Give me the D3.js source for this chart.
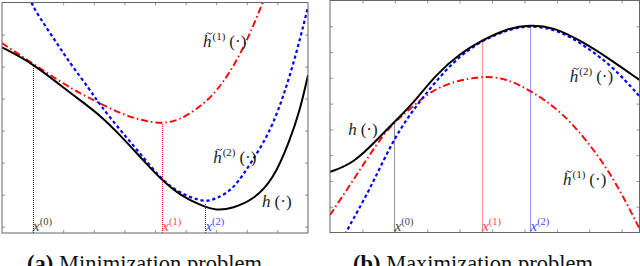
<!DOCTYPE html>
<html>
<head>
<meta charset="utf-8">
<script src="https://cdn.jsdelivr.net/npm/d3@7"></script>
<style>
  body { margin: 0; background: #fff; }
  svg { display: block; }
</style>
</head>
<body>
<svg id="chart" width="640" height="266"></svg>
<script>
// (a) minimization problem
const minHX = [0, 1.0, 1.9, 2.55, 3.2, 3.86, 4.51, 5.22, 5.82, 6.47, 7.02, 7.55, 8.2, 8.86, 9.41, 9.74, 10];
const minHY = [5.6, 5.1, 4.42, 3.95, 3.48, 2.86, 2.18, 1.45, 0.98, 0.67, 0.49, 0.58, 0.83, 1.45, 2.7, 3.64, 4.73];
const minH1X = [0, 1.0, 1.9, 2.55, 3.2, 3.86, 4.51, 5.22, 5.82, 6.47, 7.02, 7.78, 8.53, 8.9];
const minH1Y = [5.73, 5.1, 4.53, 4.16, 3.85, 3.54, 3.33, 3.2, 3.33, 3.74, 4.21, 5.3, 6.98, 8.0];
const minH2X = [0.7, 0.915, 1.57, 2.22, 2.88, 3.2, 3.86, 4.51, 5.22, 5.82, 6.63, 7.02, 7.55, 8.2, 8.86, 9.51, 10];
const minH2Y = [7.7, 6.98, 6.05, 5.1, 4.27, 3.8, 3.02, 2.29, 1.45, 1.04, 0.74, 0.89, 1.14, 2.08, 3.11, 4.98, 6.86];
const minIterX = [1.0, 5.22, 6.63];
const minIterY = [5.1, 3.2, 0.74];

// (b) maximization problem
const maxHX = [0, 0.72, 1.44, 1.98, 2.47, 3.29, 4.01, 4.68, 5.45, 6.17, 6.89, 7.72, 8.54, 9.57];
const maxHY = [2.35, 2.68, 3.58, 4.29, 4.87, 6.16, 6.94, 7.45, 7.91, 8.06, 7.97, 7.45, 6.81, 5.9];
const maxH1X = [0, 0.72, 1.44, 1.98, 2.47, 3.29, 4.68, 5.45, 6.17, 7.1, 7.92, 8.74, 9.57];
const maxH1Y = [0.68, 2.03, 3.45, 4.29, 4.78, 5.71, 6.1, 5.97, 5.52, 4.74, 3.58, 2.16, 0.1];
const maxH2X = [0.4, 0.52, 1.23, 1.98, 2.78, 3.81, 4.68, 5.45, 6.17, 7.1, 7.92, 8.74, 9.57];
const maxH2Y = [-0.3, 0.1, 1.65, 3.71, 5.13, 6.68, 7.45, 7.85, 8.06, 7.84, 7.19, 6.42, 5.26];
const maxIterX = [1.98, 4.68, 6.17];
const maxIterY = [4.29, 7.45, 8.06];

const iterColors = ['#222', '#ff1a1a', '#2a2aff'];
const iterNames = ['0', '1', '2'];
const serif = "'Liberation Serif', 'Times New Roman', 'DejaVu Serif', serif";

const svg = d3.select('#chart');
const zip = (xs, ys) => xs.map((x, i) => [x, ys[i]]);

const drawPanel = (cfg) => {
  const { id, left, right, top, bottom, xDomain, yDomain, xTicks, yTicks } = cfg;
  const x = d3.scaleLinear().domain(xDomain).range([left, right]);
  const y = d3.scaleLinear().domain(yDomain).range([bottom, top]);
  const g = svg.append('g');

  g.append('clipPath')
    .attr('id', `clip-${id}`)
    .append('rect')
    .attr('x', left)
    .attr('y', top)
    .attr('width', right - left)
    .attr('height', bottom - top);

  // inward ticks on all four sides
  const tickStyle = (sel) => sel.call((a) => a.select('.domain').remove())
    .selectAll('line').attr('stroke', '#777').attr('stroke-width', 0.8);
  g.append('g').attr('transform', `translate(0,${bottom})`)
    .call(d3.axisTop(x).tickValues(xTicks).tickSize(3).tickFormat(''))
    .call(tickStyle);
  g.append('g').attr('transform', `translate(0,${top})`)
    .call(d3.axisBottom(x).tickValues(xTicks).tickSize(3).tickFormat(''))
    .call(tickStyle);
  g.append('g').attr('transform', `translate(${left},0)`)
    .call(d3.axisRight(y).tickValues(yTicks).tickSize(3).tickFormat(''))
    .call(tickStyle);
  g.append('g').attr('transform', `translate(${right},0)`)
    .call(d3.axisLeft(y).tickValues(yTicks).tickSize(3).tickFormat(''))
    .call(tickStyle);

  const plot = g.append('g').attr('clip-path', `url(#clip-${id})`);
  const line = d3.line()
    .x((d) => x(d[0]))
    .y((d) => y(d[1]))
    .curve(d3.curveBasis);

  // iterate markers
  cfg.iterX.forEach((xv, i) => {
    const px = Math.round(x(xv)) + 0.5;
    plot.append('line')
      .attr('x1', px).attr('x2', px)
      .attr('y1', bottom).attr('y2', y(cfg.iterY[i]))
      .attr('stroke', iterColors[i])
      .attr('stroke-width', 1)
      .attr('stroke-dasharray', '1,1');
  });

  plot.append('path')
    .datum(zip(cfg.h1X, cfg.h1Y))
    .attr('d', line)
    .attr('fill', 'none')
    .attr('stroke', '#ff0000')
    .attr('stroke-width', 1.9)
    .attr('stroke-dasharray', '7,3,1.5,3');
  plot.append('path')
    .datum(zip(cfg.h2X, cfg.h2Y))
    .attr('d', line)
    .attr('fill', 'none')
    .attr('stroke', '#0000ff')
    .attr('stroke-width', 2.2)
    .attr('stroke-dasharray', '3.3,2.7');
  plot.append('path')
    .datum(zip(cfg.hX, cfg.hY))
    .attr('d', line)
    .attr('fill', 'none')
    .attr('stroke', '#000')
    .attr('stroke-width', 2);

  // frame
  g.append('rect')
    .attr('x', left)
    .attr('y', top)
    .attr('width', right - left)
    .attr('height', bottom - top)
    .attr('fill', 'none')
    .attr('stroke', '#666')
    .attr('stroke-width', 1);

  // x^(k) labels
  cfg.iterX.forEach((xv, i) => {
    const t = g.append('text')
      .attr('font-family', serif)
      .attr('x', x(xv) + 0.5)
      .attr('y', bottom - 2)
      .attr('fill', iterColors[i])
      .attr('opacity', 0.85)
      .style('font-size', '15px');
    t.append('tspan').style('font-style', 'italic').text('x');
    t.append('tspan').attr('dy', -6).style('font-size', '10.5px').text(`(${iterNames[i]})`);
  });

  // curve labels
  cfg.labels.forEach((lab) => {
    const px = x(lab.x);
    const py = y(lab.y);
    const t = g.append('text')
      .attr('font-family', serif)
      .attr('x', px)
      .attr('y', py)
      .attr('fill', '#222')
      .style('font-size', '17px');
    t.append('tspan').style('font-style', 'italic').text('h');
    if (lab.sup) {
      t.append('tspan').attr('dx', 1).attr('dy', -7).style('font-size', '11px').text(`(${lab.sup})`);
      t.append('tspan').attr('dx', 4).attr('dy', 7).text('(·)');
      // tilde accent drawn as a small path
      g.append('path')
        .attr('transform', `translate(${px + 6},${py - 13.5})`)
        .attr('d', 'M-3.2,1 Q-1.6,-1.8 0,0 T3.2,-1')
        .attr('fill', 'none')
        .attr('stroke', '#222')
        .attr('stroke-width', 0.9);
    } else {
      t.append('tspan').attr('dx', 4).text('(·)');
    }
  });
};

drawPanel({
  id: 'min', left: 2, right: 308, top: 2.5, bottom: 233,
  xDomain: [0, 10], yDomain: [-0.2, 7],
  xTicks: d3.range(1, 10), yTicks: d3.range(0, 7),
  hX: minHX, hY: minHY, h1X: minH1X, h1Y: minH1Y, h2X: minH2X, h2Y: minH2Y,
  iterX: minIterX, iterY: minIterY,
  labels: [
    { x: 6.57, y: 5.61, sup: '1' },
    { x: 6.9, y: 1.98, sup: '2' },
    { x: 8.5, y: 0.61 },
  ],
});

drawPanel({
  id: 'max', left: 330, right: 639.5, top: 0.5, bottom: 232.5,
  xDomain: [0, 9.55], yDomain: [0, 9],
  xTicks: d3.range(1, 10), yTicks: d3.range(1, 9),
  hX: maxHX, hY: maxHY, h1X: maxH1X, h1Y: maxH1Y, h2X: maxH2X, h2Y: maxH2Y,
  iterX: maxIterX, iterY: maxIterY,
  labels: [
    { x: 0.56, y: 3.77 },
    { x: 7.4, y: 5.83, sup: '2' },
    { x: 7.19, y: 1.84, sup: '1' },
  ],
});

// captions (cut off at the bottom edge, as in the source figure)
const captions = [
  { x: 27, tag: '(a)', text: 'Minimization problem' },
  { x: 353, tag: '(b)', text: 'Maximization problem' },
];
captions.forEach((c) => {
  const t = svg.append('text')
    .attr('font-family', serif)
    .attr('x', c.x)
    .attr('y', 271)
    .attr('fill', '#111')
    .style('font-size', '22.5px');
  t.append('tspan').style('font-weight', 'bold').text(c.tag);
  t.append('tspan').text(` ${c.text}`);
});
</script>
</body>
</html>
